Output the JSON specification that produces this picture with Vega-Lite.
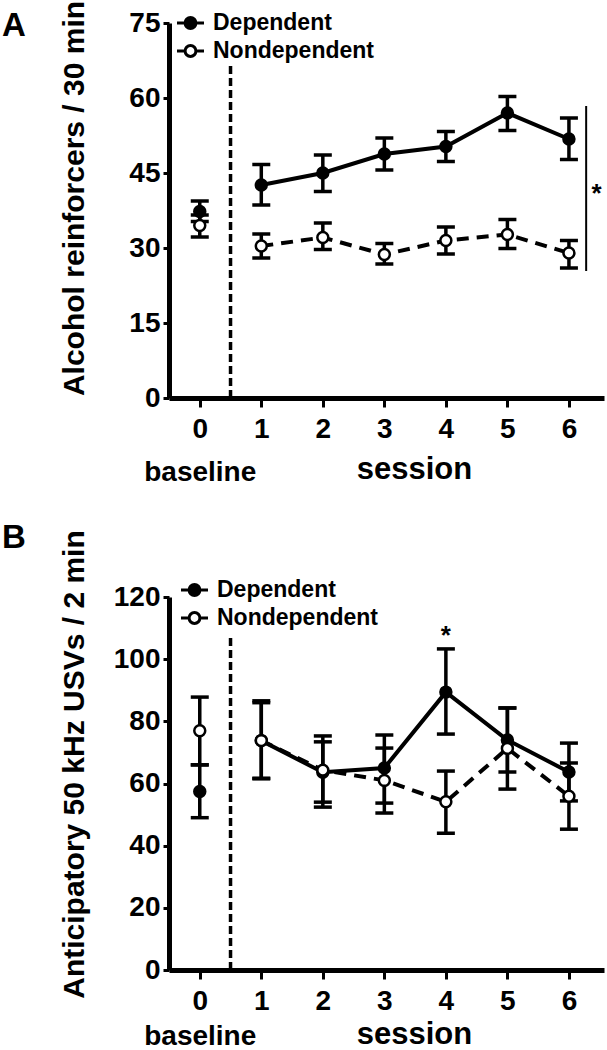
{
  "$schema": "https://vega.github.io/schema/vega-lite/v6.json",
  "padding": {"left": 2, "top": 0, "right": 2, "bottom": 0},
  "background": "white",
  "spacing": 35,
  "config": {
    "view": {"stroke": null},
    "font": "Liberation Sans",
    "axis": {
      "domainColor": "black", "domainWidth": 5, "tickColor": "black", "tickWidth": 3,
      "labelColor": "black", "labelFont": "Liberation Sans", "labelFontSize": 28, "labelFontWeight": "bold",
      "titleColor": "black", "titleFont": "Liberation Sans", "titleFontWeight": "bold",
      "grid": false, "labelOverlap": false, "labelFlush": false, "titleBaseline": "alphabetic"
    },
    "axisX": {"tickSize": 9, "labelPadding": 8, "titleFontSize": 31, "titleX": 245},
    "axisY": {"tickSize": 6, "labelPadding": 3, "titleFontSize": 30, "titleX": -86},
    "legend": {
      "labelFont": "Liberation Sans", "labelFontSize": 23, "labelFontWeight": "bold", "labelColor": "black", "labelLimit": 400,
      "symbolType": "M-1.5,0L-0.6,0M0.6,0L1.5,0M0.6,0C0.6,0.3314,0.3314,0.6,0,0.6C-0.3314,0.6,-0.6,0.3314,-0.6,0C-0.6,-0.3314,-0.3314,-0.6,0,-0.6C0.3314,-0.6,0.6,-0.3314,0.6,0Z",
      "symbolSize": 324, "symbolStrokeColor": "black", "symbolStrokeWidth": 3, "symbolOpacity": 1,
      "rowPadding": 4, "labelOffset": 11, "padding": 0, "direction": "vertical"
    },
    "title": {"anchor": "start", "frame": "group", "fontSize": 33, "fontWeight": "bold", "font": "Liberation Sans", "color": "black", "baseline": "top", "dx": -167}
  },
  "datasets": {
    "a": [
      {"group": "Dependent", "session": 0, "mean": 37.3, "lo": 35.3, "hi": 39.4},
      {"group": "Dependent", "session": 1, "mean": 42.6, "lo": 38.6, "hi": 46.7},
      {"group": "Dependent", "session": 2, "mean": 45.0, "lo": 41.3, "hi": 48.6},
      {"group": "Dependent", "session": 3, "mean": 48.8, "lo": 45.6, "hi": 52.0},
      {"group": "Dependent", "session": 4, "mean": 50.3, "lo": 47.3, "hi": 53.3},
      {"group": "Dependent", "session": 5, "mean": 57.0, "lo": 53.5, "hi": 60.3},
      {"group": "Dependent", "session": 6, "mean": 51.8, "lo": 47.7, "hi": 56.0},
      {"group": "Nondependent", "session": 0, "mean": 34.5, "lo": 32.2, "hi": 36.6},
      {"group": "Nondependent", "session": 1, "mean": 30.4, "lo": 28.0, "hi": 32.8},
      {"group": "Nondependent", "session": 2, "mean": 32.1, "lo": 29.7, "hi": 35.0},
      {"group": "Nondependent", "session": 3, "mean": 28.7, "lo": 26.8, "hi": 30.9},
      {"group": "Nondependent", "session": 4, "mean": 31.5, "lo": 28.8, "hi": 34.2},
      {"group": "Nondependent", "session": 5, "mean": 32.7, "lo": 29.9, "hi": 35.7},
      {"group": "Nondependent", "session": 6, "mean": 29.0, "lo": 26.0, "hi": 31.5}
    ],
    "b": [
      {"group": "Dependent", "session": 0, "mean": 57.4, "lo": 49.0, "hi": 66.0},
      {"group": "Dependent", "session": 1, "mean": 73.8, "lo": 61.7, "hi": 86.0},
      {"group": "Dependent", "session": 2, "mean": 63.6, "lo": 52.4, "hi": 75.3},
      {"group": "Dependent", "session": 3, "mean": 65.0, "lo": 53.7, "hi": 75.6},
      {"group": "Dependent", "session": 4, "mean": 89.4, "lo": 75.9, "hi": 103.3},
      {"group": "Dependent", "session": 5, "mean": 74.0, "lo": 63.7, "hi": 84.3},
      {"group": "Dependent", "session": 6, "mean": 63.7, "lo": 54.4, "hi": 73.0},
      {"group": "Nondependent", "session": 0, "mean": 77.0, "lo": 66.0, "hi": 87.8},
      {"group": "Nondependent", "session": 1, "mean": 73.8, "lo": 61.5, "hi": 86.6},
      {"group": "Nondependent", "session": 2, "mean": 64.3, "lo": 54.0, "hi": 73.4},
      {"group": "Nondependent", "session": 3, "mean": 61.0, "lo": 50.5, "hi": 71.4},
      {"group": "Nondependent", "session": 4, "mean": 54.1, "lo": 44.0, "hi": 64.0},
      {"group": "Nondependent", "session": 5, "mean": 71.3, "lo": 58.2, "hi": 84.3},
      {"group": "Nondependent", "session": 6, "mean": 55.9, "lo": 45.3, "hi": 66.6}
    ]
  },
  "resolve": {"scale": {"fill": "independent"}, "legend": {"fill": "independent"}},
  "vconcat": [
    {
      "width": 435, "height": 375,
      "title": {"text": "A", "offset": -43},
      "layer": [
        {
          "data": {"values": [{"x": 0.5, "y": 0, "y2": 66.6}]},
          "mark": {"type": "rule", "strokeDash": [8, 4], "strokeWidth": 3.5, "color": "black"},
          "encoding": {
            "x": {"field": "x", "type": "quantitative", "scale": {"domain": [-0.5, 6.57], "nice": false, "zero": false},
                  "axis": {"title": "session", "values": [0, 1, 2, 3, 4, 5, 6], "labelExpr": "datum.value == 0 ? ['0', 'baseline'] : format(datum.value, 'd')", "labelLineHeight": 43, "titleY": 80}},
            "y": {"field": "y", "type": "quantitative", "scale": {"domain": [0, 75], "nice": false, "zero": false},
                  "axis": {"title": "Alcohol reinforcers / 30 min", "values": [0, 15, 30, 45, 60, 75], "titleY": 175}},
            "y2": {"field": "y2"}
          }
        },
        {
          "data": {"values": [{"x": 6.28, "y": 25.4, "y2": 58.4}]},
          "mark": {"type": "rule", "strokeWidth": 2, "color": "black"},
          "encoding": {
            "x": {"field": "x", "type": "quantitative", "scale": {"domain": [-0.5, 6.57], "nice": false, "zero": false}},
            "y": {"field": "y", "type": "quantitative", "scale": {"domain": [0, 75], "nice": false, "zero": false}},
            "y2": {"field": "y2"}
          }
        },
        {
          "data": {"values": [{"x": 6.45, "y": 42, "label": "*"}]},
          "mark": {"type": "text", "fontSize": 26, "fontWeight": "bold", "font": "Liberation Sans", "baseline": "middle", "align": "center", "dy": 6, "color": "black"},
          "encoding": {
            "x": {"field": "x", "type": "quantitative", "scale": {"domain": [-0.5, 6.57], "nice": false, "zero": false}},
            "y": {"field": "y", "type": "quantitative", "scale": {"domain": [0, 75], "nice": false, "zero": false}},
            "text": {"field": "label"}
          }
        },
        {
          "data": {"name": "a"},
          "transform": [{"filter": "datum.session >= 1 && datum.group == 'Dependent'"}],
          "mark": {"type": "line", "strokeWidth": 4, "color": "black"},
          "encoding": {
            "x": {"field": "session", "type": "quantitative", "scale": {"domain": [-0.5, 6.57], "nice": false, "zero": false}},
            "y": {"field": "mean", "type": "quantitative", "scale": {"domain": [0, 75], "nice": false, "zero": false}}
          }
        },
        {
          "data": {"name": "a"},
          "transform": [{"filter": "datum.session >= 1 && datum.group == 'Nondependent'"}],
          "mark": {"type": "line", "strokeWidth": 4, "color": "black", "strokeDash": [12, 8]},
          "encoding": {
            "x": {"field": "session", "type": "quantitative", "scale": {"domain": [-0.5, 6.57], "nice": false, "zero": false}},
            "y": {"field": "mean", "type": "quantitative", "scale": {"domain": [0, 75], "nice": false, "zero": false}}
          }
        },
        {
          "data": {"name": "a"},
          "mark": {"type": "rule", "strokeWidth": 3.5, "color": "black"},
          "encoding": {
            "x": {"field": "session", "type": "quantitative", "scale": {"domain": [-0.5, 6.57], "nice": false, "zero": false}},
            "y": {"field": "lo", "type": "quantitative", "scale": {"domain": [0, 75], "nice": false, "zero": false}},
            "y2": {"field": "hi"}
          }
        },
        {
          "data": {"name": "a"},
          "mark": {"type": "tick", "orient": "horizontal", "thickness": 3.5, "size": 18, "color": "black", "opacity": 1},
          "encoding": {
            "x": {"field": "session", "type": "quantitative", "scale": {"domain": [-0.5, 6.57], "nice": false, "zero": false}},
            "y": {"field": "lo", "type": "quantitative", "scale": {"domain": [0, 75], "nice": false, "zero": false}}
          }
        },
        {
          "data": {"name": "a"},
          "mark": {"type": "tick", "orient": "horizontal", "thickness": 3.5, "size": 18, "color": "black", "opacity": 1},
          "encoding": {
            "x": {"field": "session", "type": "quantitative", "scale": {"domain": [-0.5, 6.57], "nice": false, "zero": false}},
            "y": {"field": "hi", "type": "quantitative", "scale": {"domain": [0, 75], "nice": false, "zero": false}}
          }
        },
        {
          "data": {"name": "a"},
          "mark": {"type": "point", "shape": "circle", "size": 120, "filled": true, "stroke": "black", "strokeWidth": 2.5, "opacity": 1},
          "encoding": {
            "x": {"field": "session", "type": "quantitative", "scale": {"domain": [-0.5, 6.57], "nice": false, "zero": false}},
            "y": {"field": "mean", "type": "quantitative", "scale": {"domain": [0, 75], "nice": false, "zero": false}},
            "fill": {"field": "group", "type": "nominal", "scale": {"domain": ["Dependent", "Nondependent"], "range": ["black", "white"]},
                     "legend": {"title": null, "orient": "none", "legendX": 10, "legendY": -11.5}}
          }
        }
      ]
    },
    {
      "width": 435, "height": 373,
      "title": {"text": "B", "offset": -25},
      "layer": [
        {
          "data": {"values": [{"x": 0.5, "y": 0, "y2": 107.8}]},
          "mark": {"type": "rule", "strokeDash": [8, 4], "strokeWidth": 3.5, "color": "black"},
          "encoding": {
            "x": {"field": "x", "type": "quantitative", "scale": {"domain": [-0.5, 6.57], "nice": false, "zero": false},
                  "axis": {"title": "session", "values": [0, 1, 2, 3, 4, 5, 6], "labelExpr": "datum.value == 0 ? ['0', 'baseline'] : format(datum.value, 'd')", "labelLineHeight": 35, "titleY": 73}},
            "y": {"field": "y", "type": "quantitative", "scale": {"domain": [0, 120], "nice": false, "zero": false},
                  "axis": {"title": "Anticipatory 50 kHz USVs / 2 min", "values": [0, 20, 40, 60, 80, 100, 120], "titleY": 167}},
            "y2": {"field": "y2"}
          }
        },
        {
          "data": {"values": [{"x": 4, "y": 109.4, "label": "*"}]},
          "mark": {"type": "text", "fontSize": 26, "fontWeight": "bold", "font": "Liberation Sans", "baseline": "middle", "align": "center", "dy": 6, "color": "black"},
          "encoding": {
            "x": {"field": "x", "type": "quantitative", "scale": {"domain": [-0.5, 6.57], "nice": false, "zero": false}},
            "y": {"field": "y", "type": "quantitative", "scale": {"domain": [0, 120], "nice": false, "zero": false}},
            "text": {"field": "label"}
          }
        },
        {
          "data": {"name": "b"},
          "transform": [{"filter": "datum.session >= 1 && datum.group == 'Dependent'"}],
          "mark": {"type": "line", "strokeWidth": 4, "color": "black"},
          "encoding": {
            "x": {"field": "session", "type": "quantitative", "scale": {"domain": [-0.5, 6.57], "nice": false, "zero": false}},
            "y": {"field": "mean", "type": "quantitative", "scale": {"domain": [0, 120], "nice": false, "zero": false}}
          }
        },
        {
          "data": {"name": "b"},
          "transform": [{"filter": "datum.session >= 1 && datum.group == 'Nondependent'"}],
          "mark": {"type": "line", "strokeWidth": 4, "color": "black", "strokeDash": [12, 8]},
          "encoding": {
            "x": {"field": "session", "type": "quantitative", "scale": {"domain": [-0.5, 6.57], "nice": false, "zero": false}},
            "y": {"field": "mean", "type": "quantitative", "scale": {"domain": [0, 120], "nice": false, "zero": false}}
          }
        },
        {
          "data": {"name": "b"},
          "mark": {"type": "rule", "strokeWidth": 3.5, "color": "black"},
          "encoding": {
            "x": {"field": "session", "type": "quantitative", "scale": {"domain": [-0.5, 6.57], "nice": false, "zero": false}},
            "y": {"field": "lo", "type": "quantitative", "scale": {"domain": [0, 120], "nice": false, "zero": false}},
            "y2": {"field": "hi"}
          }
        },
        {
          "data": {"name": "b"},
          "mark": {"type": "tick", "orient": "horizontal", "thickness": 3.5, "size": 18, "color": "black", "opacity": 1},
          "encoding": {
            "x": {"field": "session", "type": "quantitative", "scale": {"domain": [-0.5, 6.57], "nice": false, "zero": false}},
            "y": {"field": "lo", "type": "quantitative", "scale": {"domain": [0, 120], "nice": false, "zero": false}}
          }
        },
        {
          "data": {"name": "b"},
          "mark": {"type": "tick", "orient": "horizontal", "thickness": 3.5, "size": 18, "color": "black", "opacity": 1},
          "encoding": {
            "x": {"field": "session", "type": "quantitative", "scale": {"domain": [-0.5, 6.57], "nice": false, "zero": false}},
            "y": {"field": "hi", "type": "quantitative", "scale": {"domain": [0, 120], "nice": false, "zero": false}}
          }
        },
        {
          "data": {"name": "b"},
          "mark": {"type": "point", "shape": "circle", "size": 120, "filled": true, "stroke": "black", "strokeWidth": 2.5, "opacity": 1},
          "encoding": {
            "x": {"field": "session", "type": "quantitative", "scale": {"domain": [-0.5, 6.57], "nice": false, "zero": false}},
            "y": {"field": "mean", "type": "quantitative", "scale": {"domain": [0, 120], "nice": false, "zero": false}},
            "fill": {"field": "group", "type": "nominal", "scale": {"domain": ["Dependent", "Nondependent"], "range": ["black", "white"]},
                     "legend": {"title": null, "orient": "none", "legendX": 14, "legendY": -18.5}}
          }
        }
      ]
    }
  ]
}
